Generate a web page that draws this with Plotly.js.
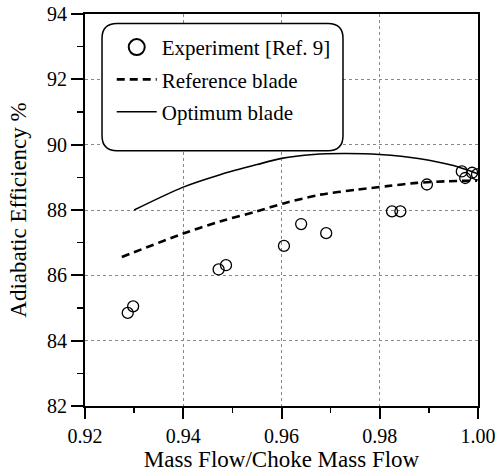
<!DOCTYPE html>
<html>
<head>
<meta charset="utf-8">
<script src="https://cdn.plot.ly/plotly-3.0.1.min.js"></script>
<style>html,body{margin:0;padding:0;background:#fff;}#chart{width:498px;height:475px;}</style>
</head>
<body>
<div id="chart"></div>
<script>
// Experimental data [Ref. 9]
var expX = [0.9287, 0.9298, 0.9472, 0.9487, 0.9605, 0.9640, 0.9691, 0.9825, 0.9842, 0.9896, 0.9967, 0.9974, 0.9988, 0.9998];
var expY = [84.85, 85.05, 86.18, 86.31, 86.90, 87.57, 87.29, 87.96, 87.96, 88.78, 89.18, 88.98, 89.14, 89.09];

// Reference blade (dashed)
var refX = [0.9275, 0.9400, 0.9475, 0.9550, 0.9604, 0.9679, 0.9753, 0.9815, 0.9876, 0.9937, 0.9998];
var refY = [86.56, 87.28, 87.65, 87.96, 88.20, 88.47, 88.62, 88.73, 88.83, 88.88, 88.90];

// Optimum blade (solid)
var optX = [0.9300, 0.9400, 0.9475, 0.9550, 0.9600, 0.9665, 0.9726, 0.9800, 0.9882, 0.9950, 0.9998];
var optY = [88.00, 88.70, 89.08, 89.39, 89.58, 89.70, 89.73, 89.70, 89.57, 89.36, 89.12];

var names = ["Experiment [Ref. 9]", "Reference blade", "Optimum blade"];
var xTicks = [0.92, 0.94, 0.96, 0.98, 1.00];
var xTickText = ["0.92", "0.94", "0.96", "0.98", "1.00"];
var yTicks = [82, 84, 86, 88, 90, 92, 94];

var FONT = "'Liberation Serif', 'Times New Roman', Times, 'DejaVu Serif', serif";

var traces = [
  {x: expX, y: expY, type: "scatter", mode: "markers", name: names[0], showlegend: false,
   marker: {symbol: "circle-open", size: 11, color: "#000", line: {width: 1.3, color: "#000"}}},
  {x: [null], y: [null], type: "scatter", mode: "markers", name: names[0], showlegend: true, legendgroup: "a",
   marker: {symbol: "circle-open", size: 16, color: "#000", line: {width: 2, color: "#000"}}},
  {x: refX, y: refY, type: "scatter", mode: "lines", name: names[1], legendgroup: "b",
   line: {color: "#000", width: 2.6, dash: "8px,5px", shape: "spline", smoothing: 0.8}},
  {x: optX, y: optY, type: "scatter", mode: "lines", name: names[2], legendgroup: "c",
   line: {color: "#000", width: 1.6, shape: "spline", smoothing: 0.8}}
];

var x0 = 0.0433, x1 = 0.6565, y0 = 0.6513, y1 = 0.9757, rx = 0.038, ry = 0.038;
var boxPath = "M " + (x0 + rx) + "," + y1 +
  " L " + (x1 - rx) + "," + y1 +
  " Q " + x1 + "," + y1 + " " + x1 + "," + (y1 - ry) +
  " L " + x1 + "," + (y0 + ry) +
  " Q " + x1 + "," + y0 + " " + (x1 - rx) + "," + y0 +
  " L " + (x0 + rx) + "," + y0 +
  " Q " + x0 + "," + y0 + " " + x0 + "," + (y0 + ry) +
  " L " + x0 + "," + (y1 - ry) +
  " Q " + x0 + "," + y1 + " " + (x0 + rx) + "," + y1 + " Z";

var layout = {
  width: 498, height: 475,
  margin: {l: 85, r: 20, t: 14, b: 69},
  paper_bgcolor: "#fff", plot_bgcolor: "#fff",
  font: {family: FONT, color: "#000", size: 20},
  showlegend: true,
  legend: {x: 0.068, y: 0.967, xanchor: "left", yanchor: "top",
           bgcolor: "rgba(0,0,0,0)", borderwidth: 0, traceorder: "grouped", tracegroupgap: 2,
           font: {family: FONT, size: 21, color: "#000"}, itemwidth: 40},
  xaxis: {
    range: [0.92, 1.00], tickvals: xTicks, ticktext: xTickText,
    ticks: "outside", ticklen: 11, tickwidth: 2, tickcolor: "#000",
    minor: {dtick: 0.01, ticks: "outside", ticklen: 5, tickwidth: 1.5, tickcolor: "#000", showgrid: false},
    showline: true, linecolor: "#000", linewidth: 2, mirror: true,
    showgrid: true, gridcolor: "#888", griddash: "dot", gridwidth: 1,
    zeroline: false,
    tickfont: {family: FONT, size: 20, color: "#000"},
    title: {text: "Mass Flow/Choke Mass Flow", font: {family: FONT, size: 23, color: "#000"}, standoff: 3}
  },
  yaxis: {
    range: [82, 94], tickvals: yTicks,
    ticks: "outside", ticklen: 12, tickwidth: 2, tickcolor: "#000",
    minor: {dtick: 1, ticks: "outside", ticklen: 6, tickwidth: 1.5, tickcolor: "#000", showgrid: false},
    showline: true, linecolor: "#000", linewidth: 2, mirror: true,
    showgrid: true, gridcolor: "#888", griddash: "dot", gridwidth: 1,
    zeroline: false,
    tickfont: {family: FONT, size: 20, color: "#000"},
    title: {text: "Adiabatic Efficiency %", font: {family: FONT, size: 23, color: "#000"}, standoff: 14}
  },
  shapes: [
    {type: "path", xref: "paper", yref: "paper", path: boxPath,
     line: {color: "#000", width: 1.5}, fillcolor: "#fff", layer: "above"}
  ]
};

Plotly.newPlot("chart", traces, layout, {displayModeBar: false, staticPlot: true});
</script>
</body>
</html>
